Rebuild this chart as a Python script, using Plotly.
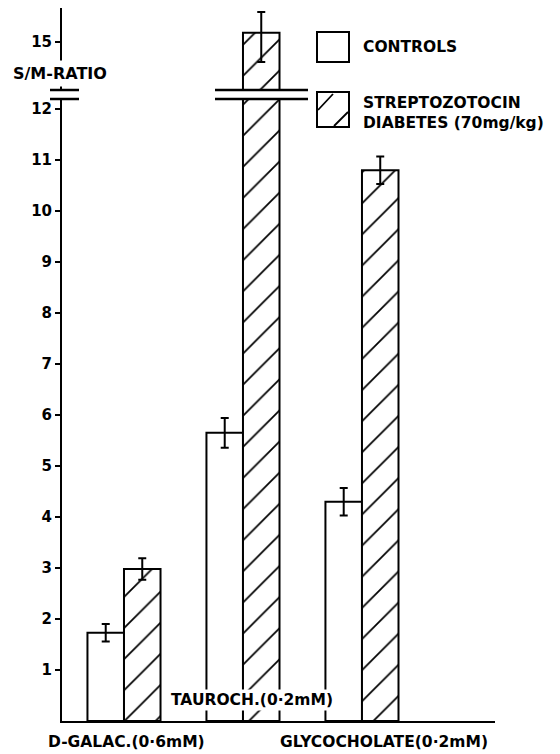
import plotly.graph_objects as go

# ---- data ----
categories = ["D-GALAC.(0·6mM)", "TAUROCH.(0·2mM)", "GLYCOCHOLATE(0·2mM)"]
controls = [1.73, 5.65, 4.30]
controls_err = [0.17, 0.29, 0.27]
diabetes = [2.98, 15.18, 10.80]
diabetes_err_plus = [0.21, 0.41, 0.27]
diabetes_err_minus = [0.21, 0.57, 0.27]
lower_ticks = [1, 2, 3, 4, 5, 6, 7, 8, 9, 10, 11, 12]
upper_ticks = [15]
legend_names = ["CONTROLS", "STREPTOZOTOCIN<br>DIABETES (70mg/kg)"]
y_title = "S/M-RATIO"

# ---- layout geometry (reference pixels; page body has an 8px margin) ----
OFF = 8
W, H = 560 - OFF, 754 - OFF
ML, MR, MT, MB = 62 - OFF, 65, 8 - OFF, 33
PW = W - ML - MR
PH = H - MT - MB
X0, Y0 = 62, 721  # reference pixel position of the axes origin


def px(X):
    return (X - X0) / PW


def py(Y):
    return (Y0 - Y) / PH


FONT = "DejaVu Sans"
font = dict(family=FONT, size=15.5, color="black", weight="bold")

fig = go.Figure()
for yax in ["y", "y2"]:
    fig.add_trace(go.Bar(
        x=categories, y=controls, yaxis=yax, name=legend_names[0],
        marker=dict(color="white", line=dict(color="black", width=2)),
        error_y=dict(type="data", array=controls_err, color="black", thickness=2, width=4),
        showlegend=False, offsetgroup="c",
    ))
    fig.add_trace(go.Bar(
        x=categories, y=diabetes, yaxis=yax, name=legend_names[1],
        marker=dict(color="white", line=dict(color="black", width=2),
                    pattern=dict(shape="/", fgcolor="black", bgcolor="white", fgopacity=1,
                                 size=22, solidity=0.08)),
        error_y=dict(type="data", array=diabetes_err_plus, arrayminus=diabetes_err_minus,
                     color="black", thickness=2, width=4),
        showlegend=False, offsetgroup="d",
    ))

y_lo_top = py(99)
y_hi_bot = py(90)
lower_max = (Y0 - 99) / 51.0
upper_min = 15 - (90 - 42) / 51.0
upper_max = 15 + (42 - 8) / 51.0

tickfont = dict(family=FONT, size=15, weight="bold", color="black")
fig.update_layout(
    width=W, height=H,
    margin=dict(l=ML, r=MR, t=MT, b=MB, pad=0),
    paper_bgcolor="white", plot_bgcolor="white",
    barmode="group", bargap=0.386, bargroupgap=0,
    font=font,
    xaxis=dict(range=[-0.521, 3.118], showticklabels=False, ticks="", showline=True,
               linecolor="black", linewidth=2, showgrid=False, zeroline=False),
    yaxis=dict(domain=[0, y_lo_top], range=[0, lower_max], tickvals=lower_ticks,
               ticks="outside", ticklen=5, tickwidth=2, tickcolor="black",
               showline=True, linecolor="black", linewidth=2, showgrid=False, zeroline=False,
               tickfont=tickfont),
    yaxis2=dict(domain=[y_hi_bot, 1], range=[upper_min, upper_max], tickvals=upper_ticks,
                anchor="x", ticks="outside", ticklen=5, tickwidth=2, tickcolor="black",
                showline=True, linecolor="black", linewidth=2, showgrid=False, zeroline=False,
                tickfont=tickfont),
)

shapes = []
# axis break marks
for Y in (90, 99):
    shapes.append(dict(type="line", xref="paper", yref="paper", x0=px(50), x1=px(79),
                       y0=py(Y), y1=py(Y), line=dict(color="black", width=2.5)))
    shapes.append(dict(type="line", xref="paper", yref="paper", x0=px(215), x1=px(308),
                       y0=py(Y), y1=py(Y), line=dict(color="black", width=2.5)))
# legend boxes
shapes.append(dict(type="rect", xref="paper", yref="paper", x0=px(317), x1=px(349),
                   y0=py(62), y1=py(32), line=dict(color="black", width=2), fillcolor="white"))
shapes.append(dict(type="rect", xref="paper", yref="paper", x0=px(317), x1=px(349),
                   y0=py(127), y1=py(92), line=dict(color="black", width=2), fillcolor="white"))
shapes.append(dict(type="line", xref="paper", yref="paper", x0=px(318), x1=px(333),
                   y0=py(110), y1=py(94), line=dict(color="black", width=1.8)))
shapes.append(dict(type="line", xref="paper", yref="paper", x0=px(334), x1=px(348),
                   y0=py(126), y1=py(112), line=dict(color="black", width=1.8)))
fig.update_layout(shapes=shapes)

ann = []
ann.append(dict(text=y_title, xref="paper", yref="paper", x=px(60), y=py(73),
                xanchor="center", yanchor="middle", showarrow=False, bgcolor="white",
                borderpad=3, font=dict(family=FONT, size=16, weight="bold")))
ann.append(dict(text=legend_names[0], xref="paper", yref="paper", x=px(361), y=py(47),
                xanchor="left", yanchor="middle", showarrow=False, font=font))
ann.append(dict(text=legend_names[1], xref="paper", yref="paper", x=px(361), y=py(113),
                xanchor="left", yanchor="middle", align="left", showarrow=False, font=font))
ann.append(dict(text=categories[0], xref="x", yref="paper", x=categories[0], y=py(742),
                xshift=3, xanchor="center", yanchor="middle", showarrow=False, font=font))
ann.append(dict(text=categories[2], xref="x", yref="paper", x=categories[2], y=py(742),
                xshift=22, xanchor="center", yanchor="middle", showarrow=False, font=font))
ann.append(dict(text=categories[1], xref="x", yref="paper", x=categories[1], y=py(700),
                xshift=9, xanchor="center", yanchor="middle", showarrow=False, font=font,
                bgcolor="white", borderpad=1))
fig.update_layout(annotations=ann)

fig.write_html("out.html")
